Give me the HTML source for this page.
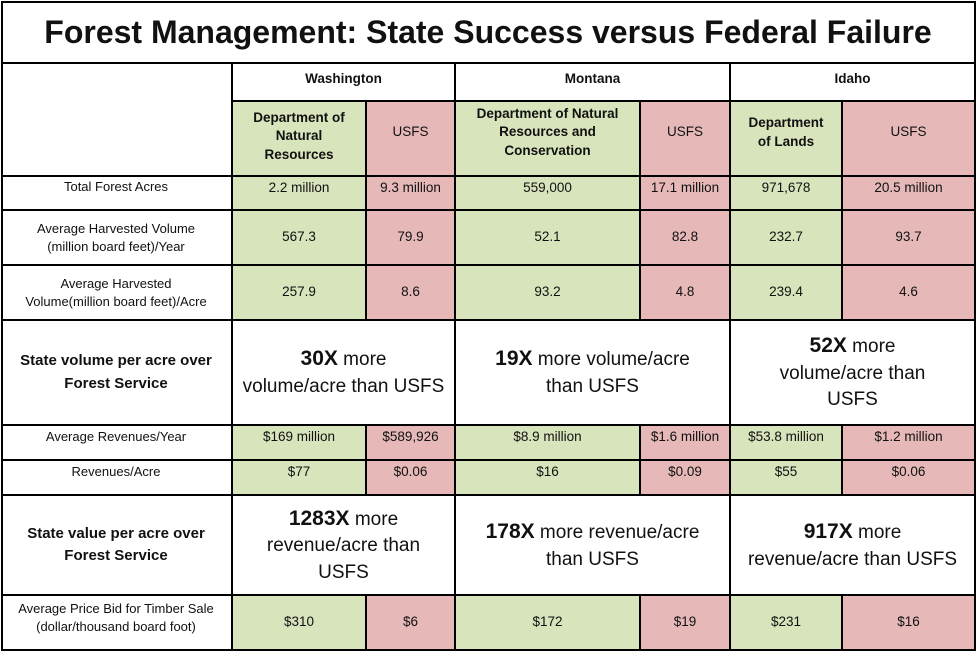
<!DOCTYPE html>
<html><head><meta charset="utf-8"><style>
body{margin:0;width:976px;height:653px;background:#fff;position:relative;overflow:hidden;font-family:"Liberation Sans",Arial,sans-serif;color:#111}
.c{position:absolute;display:flex;align-items:center;justify-content:center;text-align:center;box-sizing:border-box;line-height:1.35}
.g{background:#d8e4bc}.r{background:#e6b9b8}
.h{position:absolute;height:2px;background:#000}
.v{position:absolute;width:2px;background:#000}
.s{font-size:13.5px}.l{font-size:13px}
.b{font-weight:bold;font-size:13.5px}
.big{font-size:19px;line-height:1.4}.big b{font-size:21px}
</style></head><body>
<div class="c" style="left:0;width:976px;height:61px;top:2px;font-size:32px;font-weight:bold">Forest Management: State Success versus Federal Failure</div>

<div class="c b" style="left:232px;top:61px;width:223px;height:36px">Washington</div>
<div class="c b" style="left:455px;top:61px;width:275px;height:36px">Montana</div>
<div class="c b" style="left:730px;top:61px;width:245px;height:36px">Idaho</div>

<div class="c g b" style="left:232px;top:101px;width:134px;height:75px;padding-bottom:4px">Department of<br>Natural<br>Resources</div>
<div class="c r s" style="left:366px;top:101px;width:89px;height:75px;padding-bottom:12px">USFS</div>
<div class="c g b" style="left:455px;top:101px;width:185px;height:75px;padding-bottom:12px">Department of Natural<br>Resources and<br>Conservation</div>
<div class="c r s" style="left:640px;top:101px;width:90px;height:75px;padding-bottom:12px">USFS</div>
<div class="c g b" style="left:730px;top:101px;width:112px;height:75px;padding-bottom:12px">Department<br>of Lands</div>
<div class="c r s" style="left:842px;top:101px;width:133px;height:75px;padding-bottom:12px">USFS</div>

<div class="c l" style="left:0;top:176px;width:232px;height:22px">Total Forest Acres</div>
<div class="c g s" style="left:232px;top:176px;width:134px;height:34px;align-items:flex-start;padding-top:3px">2.2 million</div>
<div class="c r s" style="left:366px;top:176px;width:89px;height:34px;align-items:flex-start;padding-top:3px">9.3 million</div>
<div class="c g s" style="left:455px;top:176px;width:185px;height:34px;align-items:flex-start;padding-top:3px">559,000</div>
<div class="c r s" style="left:640px;top:176px;width:90px;height:34px;align-items:flex-start;padding-top:3px">17.1 million</div>
<div class="c g s" style="left:730px;top:176px;width:112px;height:34px;align-items:flex-start;padding-top:3px">971,678</div>
<div class="c r s" style="left:842px;top:176px;width:133px;height:34px;align-items:flex-start;padding-top:3px">20.5 million</div>

<div class="c l" style="left:0;top:210px;width:232px;height:55px">Average Harvested Volume<br>(million board feet)/Year</div>
<div class="c g s" style="left:232px;top:210px;width:134px;height:55px">567.3</div>
<div class="c r s" style="left:366px;top:210px;width:89px;height:55px">79.9</div>
<div class="c g s" style="left:455px;top:210px;width:185px;height:55px">52.1</div>
<div class="c r s" style="left:640px;top:210px;width:90px;height:55px">82.8</div>
<div class="c g s" style="left:730px;top:210px;width:112px;height:55px">232.7</div>
<div class="c r s" style="left:842px;top:210px;width:133px;height:55px">93.7</div>

<div class="c l" style="left:0;top:265px;width:232px;height:55px">Average Harvested<br>Volume(million board feet)/Acre</div>
<div class="c g s" style="left:232px;top:265px;width:134px;height:55px">257.9</div>
<div class="c r s" style="left:366px;top:265px;width:89px;height:55px">8.6</div>
<div class="c g s" style="left:455px;top:265px;width:185px;height:55px">93.2</div>
<div class="c r s" style="left:640px;top:265px;width:90px;height:55px">4.8</div>
<div class="c g s" style="left:730px;top:265px;width:112px;height:55px">239.4</div>
<div class="c r s" style="left:842px;top:265px;width:133px;height:55px">4.6</div>

<div class="c" style="left:0;top:320px;width:232px;height:105px;font-weight:bold;font-size:15px;line-height:1.5">State volume per acre over<br>Forest Service</div>
<div class="c big" style="left:232px;top:320px;width:223px;height:105px"><span><b>30X</b> more<br>volume/acre than USFS</span></div>
<div class="c big" style="left:455px;top:320px;width:275px;height:105px"><span><b>19X</b> more volume/acre<br>than USFS</span></div>
<div class="c big" style="left:730px;top:320px;width:245px;height:105px"><span><b>52X</b> more<br>volume/acre than<br>USFS</span></div>

<div class="c l" style="left:0;top:425px;width:232px;height:24px">Average Revenues/Year</div>
<div class="c g s" style="left:232px;top:425px;width:134px;height:35px;align-items:flex-start;padding-top:3px">$169 million</div>
<div class="c r s" style="left:366px;top:425px;width:89px;height:35px;align-items:flex-start;padding-top:3px">$589,926</div>
<div class="c g s" style="left:455px;top:425px;width:185px;height:35px;align-items:flex-start;padding-top:3px">$8.9 million</div>
<div class="c r s" style="left:640px;top:425px;width:90px;height:35px;align-items:flex-start;padding-top:3px">$1.6 million</div>
<div class="c g s" style="left:730px;top:425px;width:112px;height:35px;align-items:flex-start;padding-top:3px">$53.8 million</div>
<div class="c r s" style="left:842px;top:425px;width:133px;height:35px;align-items:flex-start;padding-top:3px">$1.2 million</div>

<div class="c l" style="left:0;top:460px;width:232px;height:24px">Revenues/Acre</div>
<div class="c g s" style="left:232px;top:460px;width:134px;height:35px;align-items:flex-start;padding-top:3px">$77</div>
<div class="c r s" style="left:366px;top:460px;width:89px;height:35px;align-items:flex-start;padding-top:3px">$0.06</div>
<div class="c g s" style="left:455px;top:460px;width:185px;height:35px;align-items:flex-start;padding-top:3px">$16</div>
<div class="c r s" style="left:640px;top:460px;width:90px;height:35px;align-items:flex-start;padding-top:3px">$0.09</div>
<div class="c g s" style="left:730px;top:460px;width:112px;height:35px;align-items:flex-start;padding-top:3px">$55</div>
<div class="c r s" style="left:842px;top:460px;width:133px;height:35px;align-items:flex-start;padding-top:3px">$0.06</div>

<div class="c" style="left:0;top:495px;width:232px;height:100px;font-weight:bold;font-size:15px;line-height:1.5">State value per acre over<br>Forest Service</div>
<div class="c big" style="left:232px;top:495px;width:223px;height:100px"><span><b>1283X</b> more<br>revenue/acre than<br>USFS</span></div>
<div class="c big" style="left:455px;top:495px;width:275px;height:100px"><span><b>178X</b> more revenue/acre<br>than USFS</span></div>
<div class="c big" style="left:730px;top:495px;width:245px;height:100px"><span><b>917X</b> more<br>revenue/acre than USFS</span></div>

<div class="c l" style="left:0;top:595px;width:232px;height:45px">Average Price Bid for Timber Sale<br>(dollar/thousand board foot)</div>
<div class="c g s" style="left:232px;top:595px;width:134px;height:55px">$310</div>
<div class="c r s" style="left:366px;top:595px;width:89px;height:55px">$6</div>
<div class="c g s" style="left:455px;top:595px;width:185px;height:55px">$172</div>
<div class="c r s" style="left:640px;top:595px;width:90px;height:55px">$19</div>
<div class="c g s" style="left:730px;top:595px;width:112px;height:55px">$231</div>
<div class="c r s" style="left:842px;top:595px;width:133px;height:55px">$16</div>

<div class="h" style="left:1px;width:975px;top:1px"></div>
<div class="h" style="left:1px;width:975px;top:62px"></div>
<div class="h" style="left:232px;width:744px;top:100px"></div>
<div class="h" style="left:1px;width:975px;top:175px"></div>
<div class="h" style="left:1px;width:975px;top:209px"></div>
<div class="h" style="left:1px;width:975px;top:264px"></div>
<div class="h" style="left:1px;width:975px;top:319px"></div>
<div class="h" style="left:1px;width:975px;top:424px"></div>
<div class="h" style="left:1px;width:975px;top:459px"></div>
<div class="h" style="left:1px;width:975px;top:494px"></div>
<div class="h" style="left:1px;width:975px;top:594px"></div>
<div class="h" style="left:1px;width:975px;top:649px"></div>
<div class="v" style="left:1px;top:1px;height:650px"></div>
<div class="v" style="left:974px;top:1px;height:650px"></div>
<div class="v" style="left:231px;top:62px;height:589px"></div>
<div class="v" style="left:454px;top:62px;height:589px"></div>
<div class="v" style="left:729px;top:62px;height:589px"></div>
<div class="v" style="left:365px;top:100px;height:221px"></div>
<div class="v" style="left:639px;top:100px;height:221px"></div>
<div class="v" style="left:841px;top:100px;height:221px"></div>
<div class="v" style="left:365px;top:424px;height:72px"></div>
<div class="v" style="left:639px;top:424px;height:72px"></div>
<div class="v" style="left:841px;top:424px;height:72px"></div>
<div class="v" style="left:365px;top:594px;height:57px"></div>
<div class="v" style="left:639px;top:594px;height:57px"></div>
<div class="v" style="left:841px;top:594px;height:57px"></div>
</body></html>
